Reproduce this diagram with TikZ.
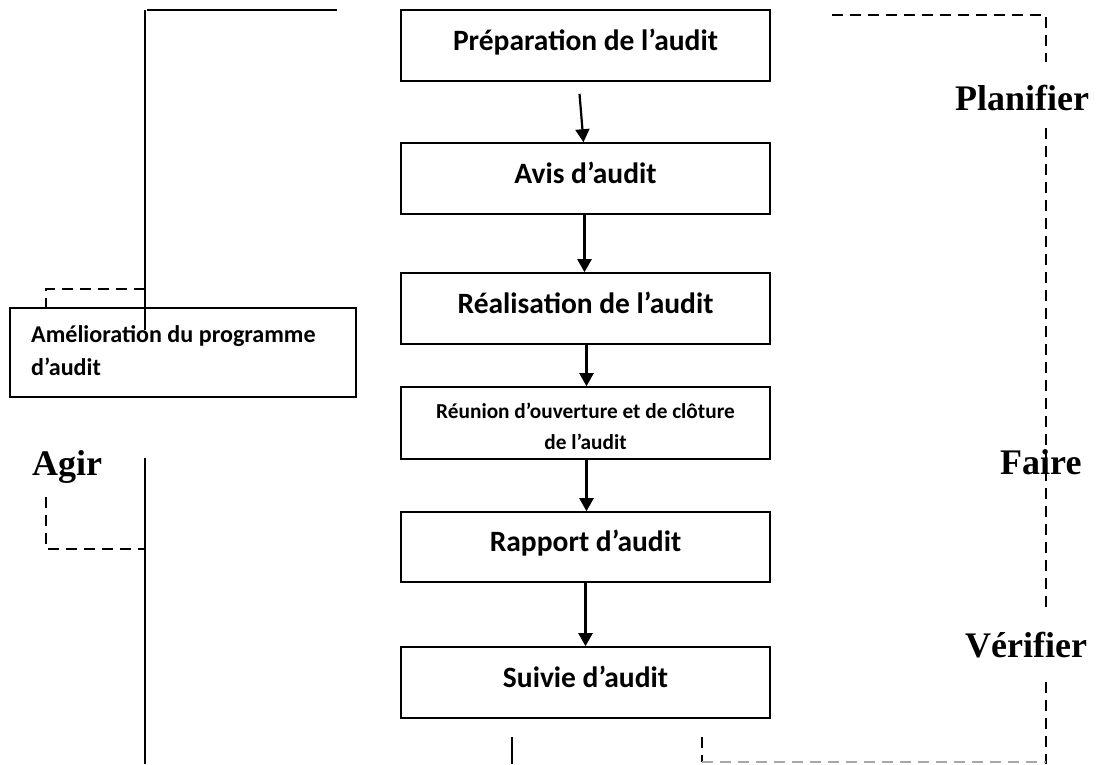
\documentclass[tikz,border=0pt]{standalone}
\usepackage{fontspec}
\setmainfont{Liberation Serif}
\newfontfamily\carlito{Carlito}
\usetikzlibrary{arrows.meta,calc}
\begin{document}
\begin{tikzpicture}[x=1pt,y=-1pt,
  stepbox/.style={draw,line width=1.6pt,minimum width=369pt,minimum height=71pt,inner sep=0pt,
    font=\carlito\bfseries\fontsize{29.5}{31}\selectfont,text height=16pt,text depth=7pt},
  plainbox/.style={draw,line width=1.6pt,inner sep=0pt},
  boxtext/.style={inner sep=0pt,font=\carlito\bfseries\fontsize{21.3}{31}\selectfont},
  arr/.style={line width=2.2pt,-{Triangle[width=14pt,length=13pt]}},
  solidline/.style={line width=1.8pt},
  dashline/.style={line width=1.8pt,dash pattern=on 11pt off 7pt},
  grayline/.style={line width=1.8pt,dash pattern=on 11pt off 7pt,draw=black!35},
  phase/.style={font=\bfseries\fontsize{36}{40}\selectfont,inner sep=0pt,anchor=base west}]
\useasboundingbox (0,0) rectangle (1098,764);

% central boxes
\node[stepbox] (prep) at (585.5,45.5) {Préparation de l’audit};
\node[stepbox] (avis) at (585.5,178.5) {Avis d’audit};
\node[stepbox] (real) at (585.5,308.5) {Réalisation de l’audit};
\node[plainbox,minimum width=369pt,minimum height=72pt] (reu) at (585.5,423) {};
\node[boxtext,align=center,anchor=base] (reutxt) at (585.5,449) {Réunion d’ouverture et de clôture\\de l’audit};
\node[stepbox,minimum height=70pt] (rap) at (585.5,547) {Rapport d’audit};
\node[stepbox] (suiv) at (585.5,682.5) {Suivie d’audit};

% left box
\node[plainbox,minimum width=346pt,minimum height=89pt] (amel) at (183,352.5) {};
\node[boxtext,font=\carlito\bfseries\fontsize{24.1}{33}\selectfont,align=left,anchor=base west] (ameltxt) at (31,375) {Amélioration du programme\\d’audit};

% phase labels
\node[phase] (plan) at (955,110) {Planifier};
\node[phase] (faire) at (1000,474) {Faire};
\node[phase] (verif) at (965,657) {Vérifier};
\node[phase] (agir) at (32,475) {Agir};

% arrows
\draw[arr] ([xshift=-6pt,yshift=-12pt]prep.south) -- ([xshift=-2pt]avis.north);
\draw[arr] ([xshift=-1pt]avis.south) -- ([xshift=-1pt]real.north);
\draw[arr] ([xshift=1pt]real.south) -- ([xshift=1pt]reu.north);
\draw[arr] ([xshift=1pt]reu.south) -- ([xshift=1pt]rap.north);
\draw[arr] (rap.south) -- (suiv.north);

% coordinates for free ends
\coordinate (tl1) at (147,10);
\coordinate (tl2) at (337,10);
\coordinate (lv1) at (145,10);
\coordinate (lv2) at (145,330);
\coordinate (ld1) at (145,289);
\coordinate (ld2) at (46,289);
\coordinate (lb1) at (145,458);
\coordinate (lb2) at (145,764);
\coordinate (la1) at (46,497);
\coordinate (la2) at (46,549);
\coordinate (la3) at (145,549);
\coordinate (bs1) at (512,737);
\coordinate (bs2) at (512,764);
\coordinate (bd1) at (702,737);
\coordinate (bd2) at (702,762);
\coordinate (rc) at (1046,762);
\coordinate (rt1) at (832,15);
\coordinate (rt2) at (1046,15);
\coordinate (rt3) at (1046,62);
\coordinate (rm1) at (1046,128);
\coordinate (rm2) at (1046,607);
\coordinate (rb1) at (1046,682);
\coordinate (rb2) at (1046,764);

% left solid lines
\draw[solidline] (tl1) -- (tl2);
\draw[solidline] (lv1) -- (lv2);
\draw[solidline] (lb1) -- (lb2);
\draw[solidline] (bs1) -- (bs2);

% left dashed
\draw[dashline] (ld1) -- (ld2) -- (amel.north west -| ld2);
\draw[dashline] (la1) -- (la2) -- (la3);

% right dashed
\draw[dashline] (rt1) -- (rt2) -- (rt3);
\draw[dashline] (rm1) -- (rm2);
\draw[dashline] (rb1) -- (rb2);
\draw[dashline] (bd1) -- (bd2);
\draw[grayline] (bd2) -- (rc);
\end{tikzpicture}
\end{document}
